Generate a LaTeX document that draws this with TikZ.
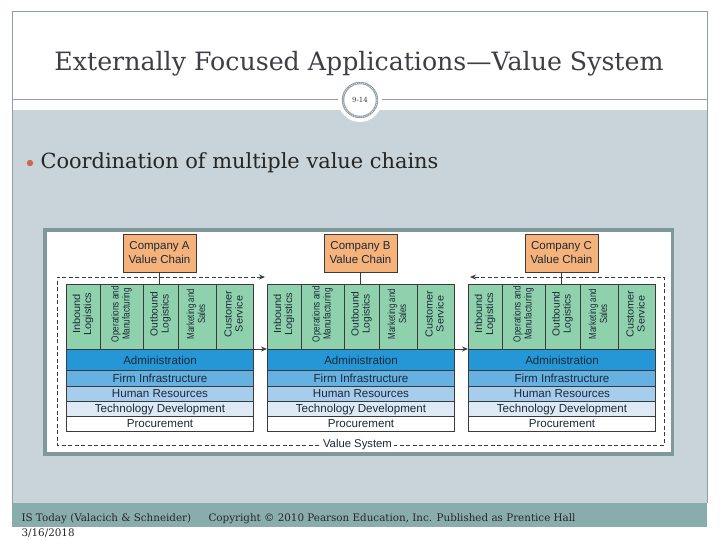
\documentclass[tikz,border=0pt]{standalone}
\usepackage{fontspec}
\usepackage{graphicx}
\newfontfamily\diagfont{Liberation Sans}
\newfontfamily\slidefont{DejaVu Serif}
\usetikzlibrary{arrows.meta,positioning,calc}
\definecolor{slideFrame}{HTML}{8FA0A5}
\definecolor{slideBody}{HTML}{C8D4DA}
\definecolor{slideFoot}{HTML}{89ADAD}
\definecolor{slideInk}{HTML}{3E3E48}
\definecolor{slideBullet}{HTML}{D2654B}
\definecolor{imgBorder}{HTML}{7E989C}
\definecolor{vsInk}{HTML}{3A3A3A}
\definecolor{vsText}{HTML}{1C2A38}
\definecolor{vsOrange}{HTML}{F6B27B}
\definecolor{vsGreen}{HTML}{8FD1AD}
\definecolor{vsAdmin}{HTML}{2597D6}
\definecolor{vsFirm}{HTML}{64B1E2}
\definecolor{vsHuman}{HTML}{A6CDEC}
\definecolor{vsTech}{HTML}{DDE9F5}
% rotated two-line label, stretched to length #1, set a little high
\newcommand\vtext[2]{\raisebox{3pt}[\height][\depth]{%
  \resizebox{\width}{#1}{\rotatebox{90}{\begin{tabular}{@{}c@{}}#2\end{tabular}}}}}
\tikzset{
  company box/.style={draw=vsInk, line width=1pt, fill=vsOrange, align=center,
    minimum width=73pt, minimum height=38pt, inner sep=0pt, text=vsText,
    font=\diagfont\fontsize{11.5}{14}\selectfont},
  primary col/.style={draw=vsInk, line width=1pt, fill=vsGreen, anchor=north west,
    minimum height=65pt, inner sep=0pt, text=vsText,
    font=\diagfont\fontsize{10.3}{11}\selectfont},
  support row/.style={draw=vsInk, line width=1pt, anchor=north west,
    minimum width=187pt, inner sep=0pt, text=vsText,
    font=\diagfont\fontsize{11.6}{12}\selectfont},
  chain line/.style={draw=vsInk, line width=1pt},
  flow arrow/.style={-{Stealth[length=6pt,width=5pt]}, draw=vsInk, line width=1pt},
  vs dash/.style={draw=vsInk, line width=1pt, dash pattern=on 4pt off 2.5pt,
    {Stealth[length=6pt,width=5pt]}-{Stealth[length=6pt,width=5pt]}},
  footer text/.style={anchor=base west, text=black!85, font=\slidefont\fontsize{10.35}{12}\selectfont}
}
\begin{document}
\begin{tikzpicture}[x=1pt,y=-1pt]
  \useasboundingbox (0,0) rectangle (720,540);
  \fill[white] (0,0) rectangle (720,540);
  % slide background
  \fill[slideBody] (12,110) rectangle (707,503);
  \fill[slideFoot] (12,503) rectangle (707,527);
  \draw[slideFrame, line width=1pt] (12,503) |- (707,12) -- (707,503);
  \node[text=slideInk, font=\slidefont\fontsize{25.25}{30}\selectfont] (title) at (359,64)
    {Externally Focused Applications—Value System};
  \draw[slideFrame, line width=1pt] (12,100) -- (340,100) (381,100) -- (707,100);
  \fill[white] (360,100) circle (22);
  \draw[slideFrame, line width=2.4pt] (360,100) circle (17);
  \draw[white, line width=0.6pt, dash pattern=on 0.8pt off 1.2pt] (360,100) circle (17);
  \node[text=slideInk, font=\slidefont\fontsize{7}{8}\selectfont] (slideno) at (360,100) {9-14};
  \fill[slideBullet] (30,163) circle (3.2);
  \node[anchor=west, text=black!85, font=\slidefont\fontsize{20.9}{25}\selectfont] (bullet) at (37,163)
    {Coordination of multiple value chains};
  % footer
  \node[footer text] (source) at (18,521) {IS Today (Valacich \& Schneider)};
  \node[footer text] (copyright) at (205,521)
    {Copyright © 2010 Pearson Education, Inc. Published as Prentice Hall};
  \node[footer text] (date) at (18,536) {3/16/2018};
  % diagram image
  \fill[imgBorder] (43,228) rectangle (674,456);
  \fill[white] (47,232) rectangle (671,452);
  \foreach \co/\cx in {A/66,B/267,C/468} {
    \node[company box] (comp\co) at (\cx+93.5,253) {Company \co\\Value Chain};
    \foreach \i/\dx/\w/\len/\txt in {1/0/34/43/{Inbound\\Logistics},
        2/34/43/56/{Operations and\\Manufacturing},3/77/35/45/{Outbound\\Logistics},
        4/112/38/50/{Marketing and\\Sales},5/150/37/47/{Customer\\Service}}
      \node[primary col, minimum width=\w pt] (\co\i) at (\cx+\dx,284) {\vtext{\len pt}{\txt}};
    \foreach \r/\top/\h/\col/\txt in {adm/349/21/vsAdmin/Administration,
        fir/370/16/vsFirm/Firm Infrastructure,hum/386/15/vsHuman/Human Resources,
        tec/401/15/vsTech/Technology Development,pro/416/15/white/Procurement}
      \node[support row, fill=\col, minimum height=\h pt] (\co\r) at (\cx,\top) {\txt};
    \draw[chain line] (comp\co.south) -- (comp\co.south |- \co1.north);
  }
  \draw[flow arrow] (Aadm.north east) -- (Badm.north west);
  \draw[flow arrow] (Badm.north east) -- (Cadm.north west);
  % value system
  \coordinate (vsTL) at (57,277);
  \coordinate (vsBL) at (57,445);
  \coordinate (vsBR) at (664,445);
  \coordinate (vsTR) at (664,277);
  \draw[vs dash] ([xshift=-2pt]B1.north west |- vsTL) -- (vsTL) -- (vsBL) -- (vsBR)
    -- (vsTR) -- ([xshift=2pt]C1.north west |- vsTR);
  \node[fill=white, inner xsep=2pt, inner ysep=1pt, text=vsText,
    font=\diagfont\fontsize{11.3}{12}\selectfont] (vslabel) at ($(vsBL)!0.495!(vsBR)$) {Value System};
\end{tikzpicture}
\end{document}
